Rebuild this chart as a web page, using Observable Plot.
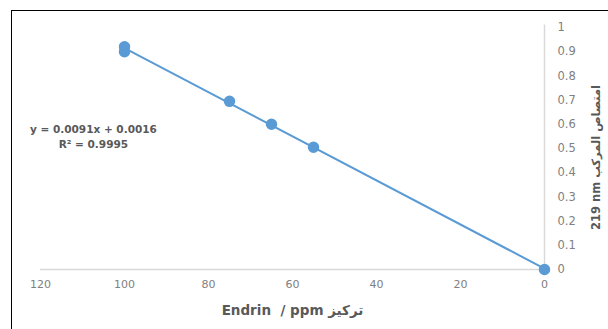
<!DOCTYPE html>
<html>
<head>
<meta charset="utf-8">
<script src="https://cdn.jsdelivr.net/npm/d3@7"></script>
<script src="https://cdn.jsdelivr.net/npm/@observablehq/plot@0.6"></script>
<style>
  html, body { margin: 0; padding: 0; background: #fff; }
  #wrap { position: relative; width: 608px; height: 329px; overflow: hidden; }
  #frame { position: absolute; left: 11px; top: 10px; width: 620px; height: 340px;
           border-top: 1px solid #000; border-left: 1px solid #000; pointer-events: none; }
</style>
</head>
<body>
<div id="wrap"><div id="frame"></div></div>
<script>
// Data
const concentration = [100, 100, 75, 65, 55, 0];          // ppm
const absorbance    = [0.92, 0.90, 0.695, 0.60, 0.505, 0]; // at 219 nm
const xTicks = [120, 100, 80, 60, 40, 20, 0];
const yTicks = [0, 0.1, 0.2, 0.3, 0.4, 0.5, 0.6, 0.7, 0.8, 0.9, 1];
const equationText = "y = 0.0091x + 0.0016\nR² = 0.9995";
const xLabel = "Endrin  / ppm تركيز";
const yLabel = "219 nm امتصاص المركب";

const data = concentration.map((c, i) => ({x: c, y: absorbance[i]}));
const blue = "#5b9bd5";
const grid = "#d9d9d9";

const chart = Plot.plot({
  width: 608,
  height: 329,
  marginLeft: 40,
  marginRight: 64,
  marginTop: 27,
  marginBottom: 60,
  style: {fontFamily: "DejaVu Sans", background: "transparent", overflow: "visible"},
  x: {domain: [120, 0]},
  y: {domain: [0, 1]},
  marks: [
    Plot.ruleY([0], {x1: 120, x2: 0, stroke: grid, strokeWidth: 1.5}),
    Plot.ruleX([0], {y1: 0, y2: 1.01, stroke: grid, strokeWidth: 1.5}),
    Plot.axisX({ticks: xTicks, tickSize: 0, tickPadding: 11, label: null,
                fontSize: 11, fill: "#808080", tickFormat: d => String(d)}),
    Plot.axisY({anchor: "right", ticks: yTicks, tickSize: 0, tickPadding: 13, label: null,
                fontSize: 11.5, fill: "#808080", tickFormat: d => String(d)}),
    Plot.linearRegressionY(data, {x: "x", y: "y", stroke: blue, strokeWidth: 2, ci: 0}),
    Plot.dot(data, {x: "x", y: "y", r: 5, fill: blue, stroke: blue}),
    Plot.text([equationText], {x: 107.4, y: 0.552, text: d => d, fontSize: 10.5,
               fontWeight: "bold", fill: "#595959", textAnchor: "middle",
               lineAnchor: "middle", lineHeight: 1.4}),
    Plot.text([xLabel], {frameAnchor: "bottom", dy: 41, text: d => d, fontSize: 13.5,
               fontWeight: "bold", fill: "#595959", lineAnchor: "middle", textAnchor: "middle"}),
    Plot.text([yLabel], {frameAnchor: "right", dx: 52, dy: 9, rotate: -90, text: d => d,
               fontSize: 11.5, fontWeight: "bold", fill: "#595959", lineAnchor: "middle",
               textAnchor: "middle"})
  ]
});
document.getElementById("wrap").prepend(chart);
</script>
</body>
</html>
